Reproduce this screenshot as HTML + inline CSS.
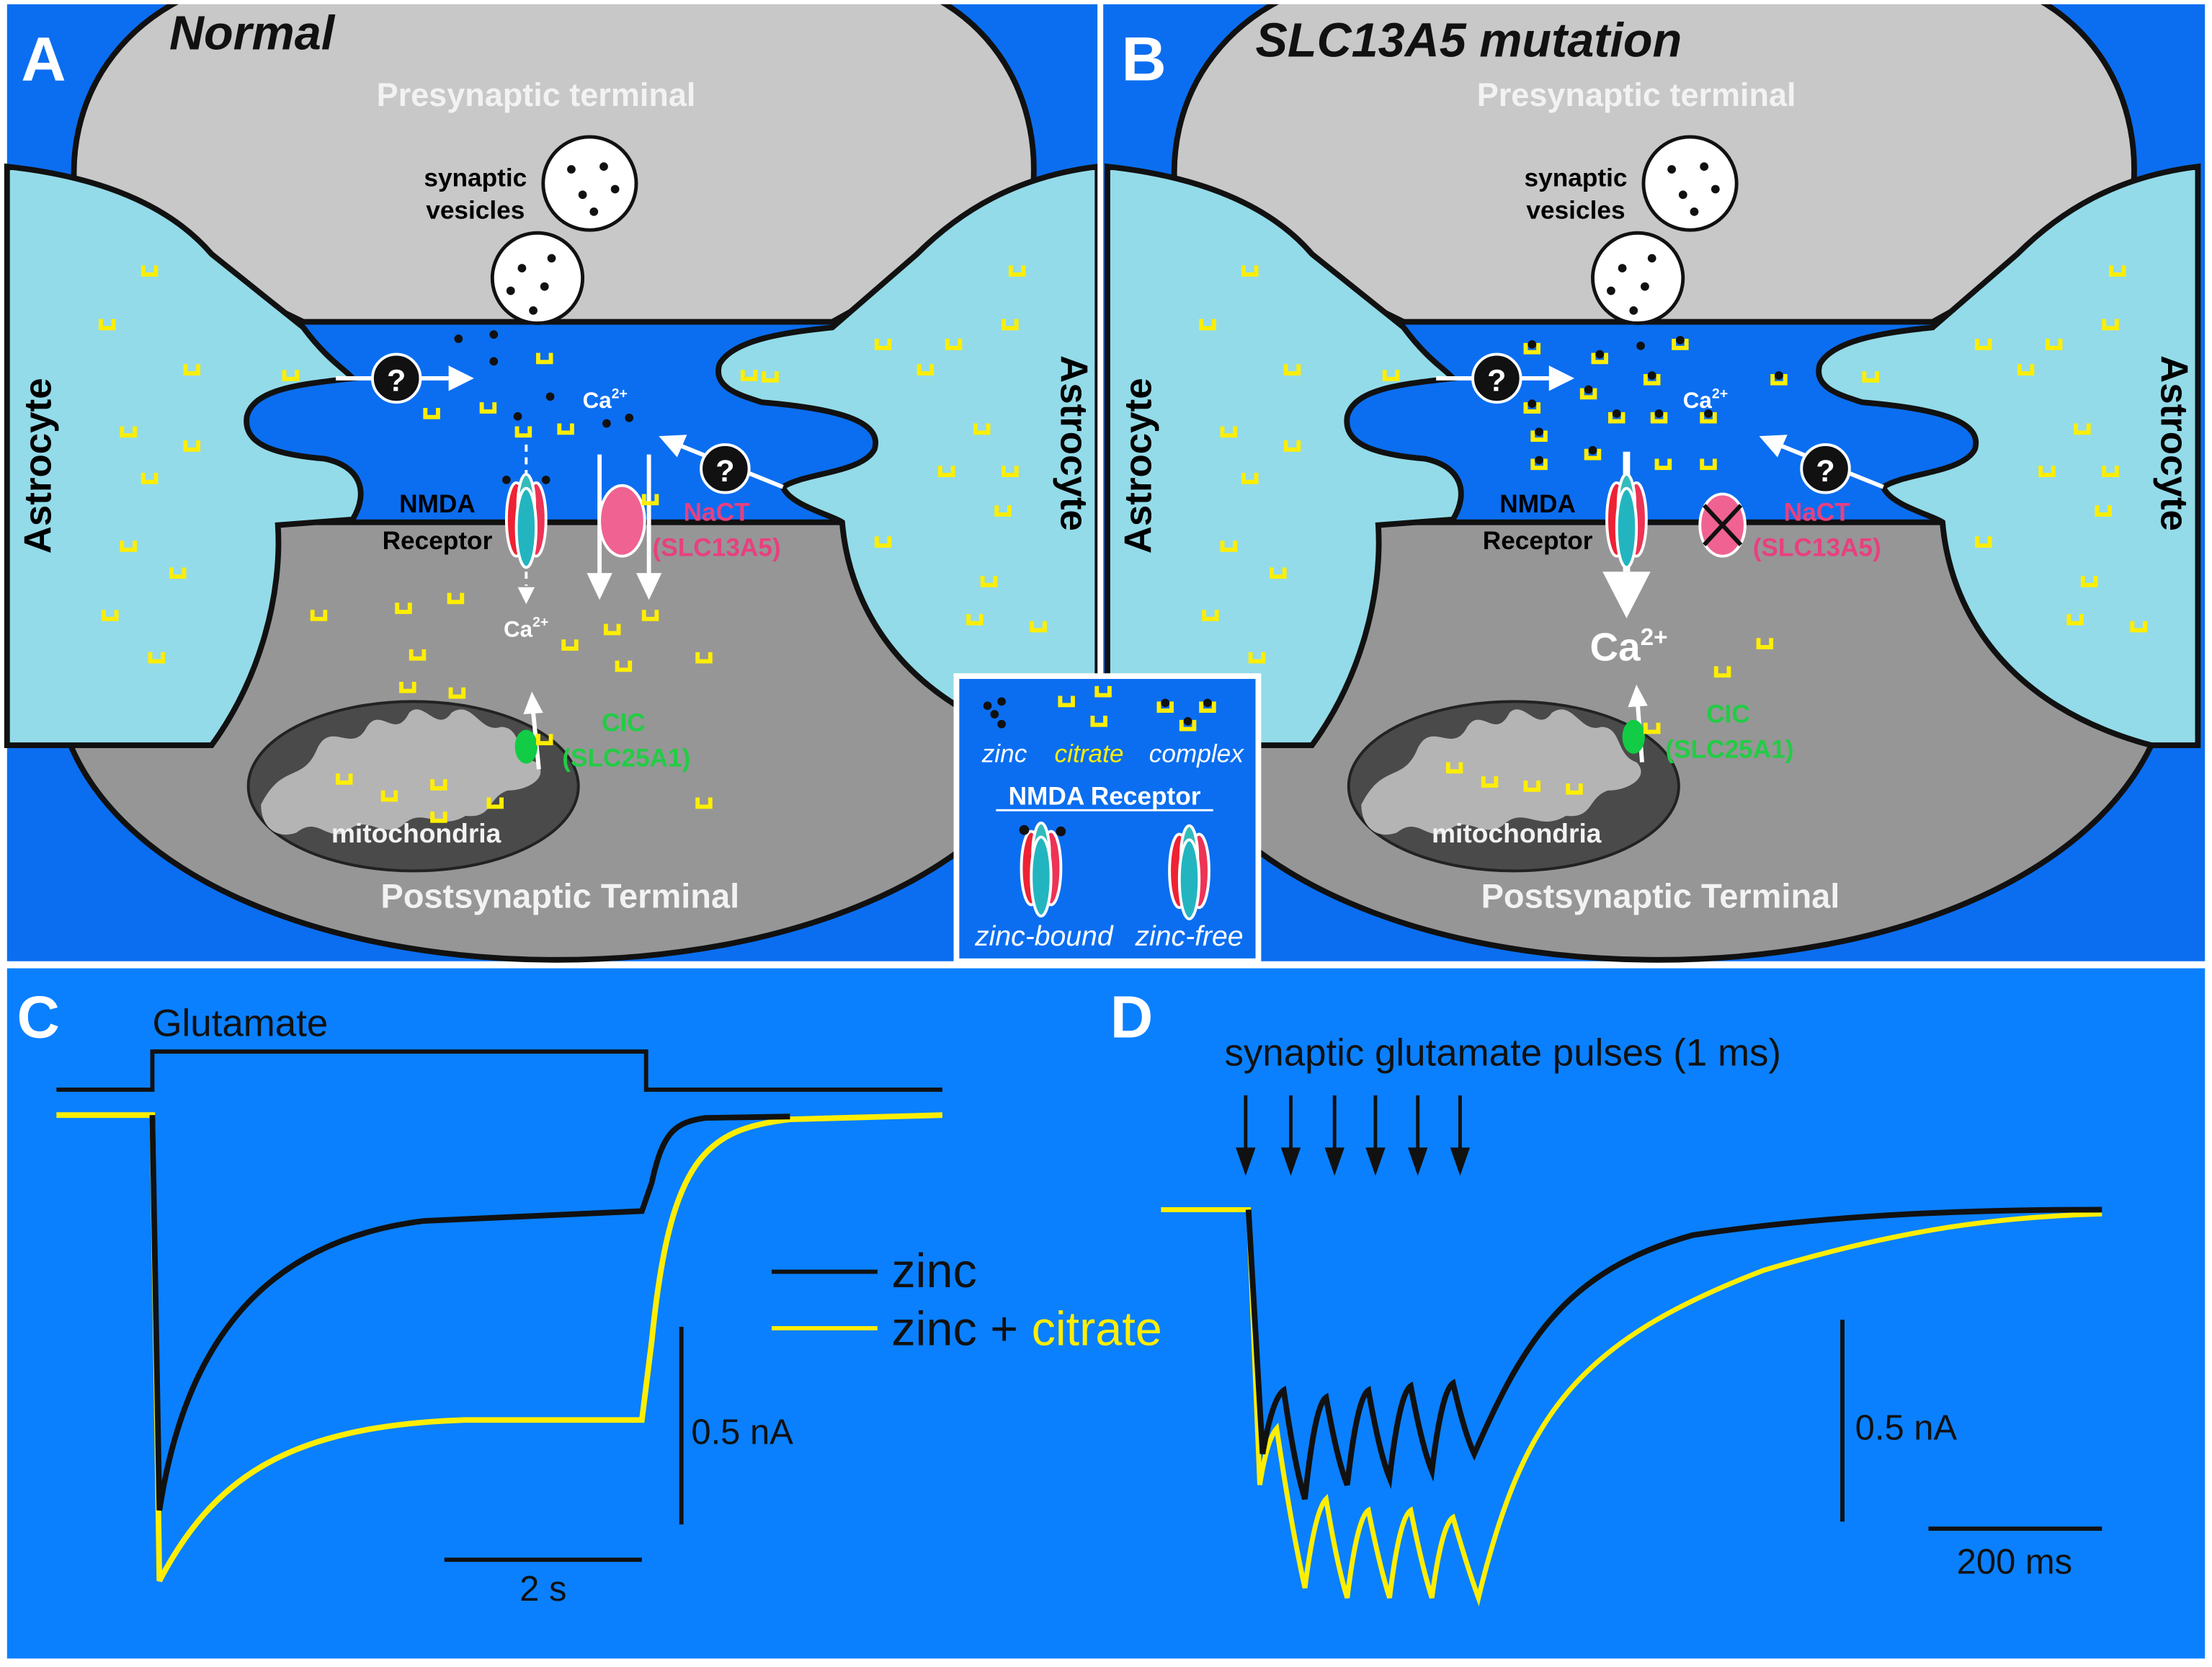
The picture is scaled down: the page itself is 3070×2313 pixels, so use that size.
<!DOCTYPE html>
<html><head><meta charset="utf-8"><style>html,body{margin:0;padding:0;background:#fff}svg{display:block}</style></head><body>
<svg width="3070" height="2313" viewBox="0 0 1568 1181" preserveAspectRatio="none" xmlns="http://www.w3.org/2000/svg" font-family="'Liberation Sans', Arial, sans-serif">
<defs>
<path id="cit" d="M0,0 h3 v5 h6 v-5 h3 v8 h-12 z" fill="#ffee00"/>
<g id="cx"><use href="#cit"/><circle cx="6" cy="1" r="3" fill="#111"/></g>
<g id="nmda"><ellipse cx="-7" cy="0" rx="7" ry="26" fill="#ee2233" stroke="#fff" stroke-width="2"/><ellipse cx="7" cy="0" rx="7" ry="26" fill="#ee3355" stroke="#fff" stroke-width="2"/><ellipse cx="0" cy="-10" rx="6" ry="22" fill="#33bbbb" stroke="#fff" stroke-width="2"/><ellipse cx="0" cy="6" rx="7" ry="28" fill="#22b5c0" stroke="#fff" stroke-width="2"/></g>
<g id="panel">
<path d="M55,150 C40,70 90,-10 200,-20 L600,-20 C700,-10 745,70 730,150 L590,228 L215,228 Z" fill="#c8c8c8" stroke="#111" stroke-width="4"/>
<path d="M195,370 L597,370 C602,430 640,500 745,528 C700,622 560,680 395,680 C230,680 90,622 50,528 C150,500 190,430 195,370 Z" fill="#969696" stroke="#111" stroke-width="4"/>
<path d="M5,118 C70,125 120,145 150,180 L215,232 C232,255 245,262 250,268 C215,272 180,275 175,295 C172,315 195,322 230,325 C255,330 262,348 250,368 L197,372 C200,420 185,480 150,528 L5,528 Z" fill="#93dbe9" stroke="#111" stroke-width="4"/>
<path d="M778,118 C720,125 680,150 650,180 L590,232 C560,235 520,240 510,258 C505,275 525,280 540,285 C600,290 625,300 620,318 C612,335 570,335 555,345 C560,358 590,365 597,370 C602,430 640,500 745,528 L778,528 Z" fill="#93dbe9" stroke="#111" stroke-width="4"/>
<circle cx="418" cy="130" r="33" fill="#fff" stroke="#111" stroke-width="2.5"/>
<g fill="#111"><circle cx="405" cy="120" r="3"/><circle cx="428" cy="118" r="3"/><circle cx="413" cy="138" r="3"/><circle cx="436" cy="134" r="3"/><circle cx="421" cy="150" r="3"/></g>
<circle cx="381" cy="197" r="32" fill="#fff" stroke="#111" stroke-width="2.5"/>
<g fill="#111"><circle cx="370" cy="190" r="3"/><circle cx="391" cy="183" r="3"/><circle cx="362" cy="206" r="3"/><circle cx="386" cy="203" r="3"/><circle cx="378" cy="220" r="3"/></g>
<text x="337" y="132" font-size="18" font-weight="bold" text-anchor="middle">synaptic</text>
<text x="337" y="155" font-size="18" font-weight="bold" text-anchor="middle">vesicles</text>
<text x="380" y="75" font-size="23" font-weight="bold" fill="#f2f2f2" text-anchor="middle">Presynaptic terminal</text>
<text x="397" y="643" font-size="24" font-weight="bold" fill="#f2f2f2" text-anchor="middle">Postsynaptic Terminal</text>
<text transform="translate(36,330) rotate(-90)" font-size="27" font-weight="bold" text-anchor="middle">Astrocyte</text>
<text transform="translate(752,314) rotate(90)" font-size="27" font-weight="bold" text-anchor="middle">Astrocyte</text>
<text x="310" y="363" font-size="18" font-weight="bold" text-anchor="middle">NMDA</text>
<text x="310" y="389" font-size="18" font-weight="bold" text-anchor="middle">Receptor</text>
<line x1="238" y1="268" x2="318" y2="268" stroke="#fff" stroke-width="3"/><path d="M336,268 L318,259 L318,277 Z" fill="#fff"/>
<circle cx="281" cy="268" r="17" fill="#111" stroke="#fff" stroke-width="2"/><text x="281" y="277" font-size="22" font-weight="bold" fill="#fff" text-anchor="middle">?</text>
<line x1="555" y1="345" x2="483" y2="316" stroke="#fff" stroke-width="3"/><path d="M467,309 L487,308 L480,324 Z" fill="#fff"/>
<circle cx="514" cy="332" r="17" fill="#111" stroke="#fff" stroke-width="2"/><text x="514" y="341" font-size="22" font-weight="bold" fill="#fff" text-anchor="middle">?</text>
<ellipse cx="293" cy="557" rx="117" ry="60" fill="#4a4a4a" stroke="#222" stroke-width="2"/>
<path d="M185,570 C200,540 215,555 225,530 C235,510 250,535 260,515 C270,500 280,525 290,505 C300,495 310,520 320,505 C335,495 340,520 355,515 C370,515 365,535 380,540 C390,550 375,560 360,560 C345,565 350,580 330,578 C310,590 300,570 285,585 C270,595 260,575 245,590 C230,595 225,578 210,590 C195,595 185,585 185,570 Z" fill="#b4b4b4"/>
<text x="295" y="597" font-size="19" font-weight="bold" fill="#f2f2f2" text-anchor="middle">mitochondria</text>
</g>
<g id="cit1">
<use href="#cit" x="100" y="188"/><use href="#cit" x="70" y="226"/><use href="#cit" x="130" y="258"/><use href="#cit" x="200" y="262"/><use href="#cit" x="85" y="302"/><use href="#cit" x="130" y="312"/><use href="#cit" x="100" y="335"/><use href="#cit" x="85" y="383"/><use href="#cit" x="120" y="402"/><use href="#cit" x="72" y="432"/><use href="#cit" x="105" y="462"/>
<use href="#cit" x="715" y="188"/><use href="#cit" x="710" y="226"/><use href="#cit" x="620" y="240"/><use href="#cit" x="650" y="258"/><use href="#cit" x="670" y="240"/><use href="#cit" x="540" y="263"/><use href="#cit" x="690" y="300"/><use href="#cit" x="665" y="330"/><use href="#cit" x="710" y="330"/><use href="#cit" x="705" y="358"/><use href="#cit" x="620" y="380"/><use href="#cit" x="685" y="435"/><use href="#cit" x="730" y="440"/><use href="#cit" x="695" y="408"/>
</g>
</defs>
<rect width="1568" height="1181" fill="#fff"/>
<rect x="5" y="3" width="773" height="678" fill="#0b6ef0"/>
<rect x="782" y="3" width="781" height="678" fill="#0b6ef0"/>
<rect x="5" y="686" width="1558" height="489" fill="#0a80ff"/>

<use href="#panel"/>
<use href="#cit1"/>
<g fill="#111"><circle cx="325" cy="240" r="3"/><circle cx="350" cy="237" r="3"/><circle cx="350" cy="256" r="3"/><circle cx="390" cy="281" r="3"/><circle cx="367" cy="295" r="3"/><circle cx="430" cy="300" r="3"/><circle cx="446" cy="296" r="3"/></g>
<g><use href="#cit" x="380" y="250"/><use href="#cit" x="300" y="289"/><use href="#cit" x="340" y="285"/><use href="#cit" x="365" y="302"/><use href="#cit" x="395" y="300"/><use href="#cit" x="525" y="262"/>
<use href="#cit" x="220" y="432"/><use href="#cit" x="280" y="427"/><use href="#cit" x="317" y="420"/><use href="#cit" x="290" y="460"/><use href="#cit" x="283" y="483"/><use href="#cit" x="318" y="487"/><use href="#cit" x="398" y="453"/><use href="#cit" x="428" y="442"/><use href="#cit" x="455" y="432"/><use href="#cit" x="436" y="468"/><use href="#cit" x="493" y="462"/><use href="#cit" x="493" y="565"/>
<use href="#cit" x="238" y="548"/><use href="#cit" x="270" y="560"/><use href="#cit" x="305" y="552"/><use href="#cit" x="345" y="565"/><use href="#cit" x="305" y="575"/></g>
<line x1="373" y1="315" x2="373" y2="415" stroke="#fff" stroke-width="2" stroke-dasharray="5,4"/><path d="M373,428 L367,416 L379,416 Z" fill="#fff"/>
<use href="#nmda" x="373" y="368"/>
<g fill="#111"><circle cx="359" cy="340" r="3"/><circle cx="387" cy="340" r="3"/></g>
<line x1="425" y1="322" x2="425" y2="408" stroke="#fff" stroke-width="3"/><path d="M425,425 L416,406 L434,406 Z" fill="#fff"/>
<line x1="460" y1="322" x2="460" y2="408" stroke="#fff" stroke-width="3"/><path d="M460,425 L451,406 L469,406 Z" fill="#fff"/>
<ellipse cx="441" cy="369" rx="16" ry="25" fill="#f06292" stroke="#fff" stroke-width="2"/>
<use href="#cit" x="455" y="350"/>
<text x="508" y="369" font-size="18" font-weight="bold" fill="#e8407f" text-anchor="middle">NaCT</text>
<text x="508" y="394" font-size="18" font-weight="bold" fill="#e8407f" text-anchor="middle">(SLC13A5)</text>
<text x="413" y="289" font-size="16" font-weight="bold" fill="#fff">Ca<tspan font-size="10" dy="-7">2+</tspan></text>
<text x="357" y="451" font-size="16" font-weight="bold" fill="#fff">Ca<tspan font-size="10" dy="-7">2+</tspan></text>
<line x1="382" y1="545" x2="378" y2="505" stroke="#fff" stroke-width="3"/><path d="M377,490 L371,506 L385,505 Z" fill="#fff"/>
<ellipse cx="373" cy="529" rx="8" ry="12" fill="#11cc44"/><use href="#cit" x="380" y="520"/>
<text x="442" y="518" font-size="18" font-weight="bold" fill="#22cc44" text-anchor="middle">CIC</text>
<text x="444" y="543" font-size="18" font-weight="bold" fill="#22cc44" text-anchor="middle">(SLC25A1)</text>

<g transform="translate(780,0)"><use href="#panel"/></g>
<g transform="translate(780,0)"><use href="#cit1"/>
<g fill="#111"><circle cx="383" cy="245" r="3"/></g>
<use href="#cx" x="300" y="243"/><use href="#cx" x="348" y="250"/><use href="#cx" x="405" y="240"/><use href="#cx" x="300" y="285"/><use href="#cx" x="340" y="275"/><use href="#cx" x="385" y="265"/><use href="#cx" x="360" y="292"/><use href="#cx" x="390" y="292"/><use href="#cx" x="425" y="292"/><use href="#cx" x="305" y="305"/><use href="#cx" x="305" y="325"/><use href="#cx" x="343" y="318"/><use href="#cx" x="475" y="265"/>
<use href="#cit" x="393" y="325"/><use href="#cit" x="425" y="325"/><use href="#cit" x="465" y="452"/><use href="#cit" x="435" y="472"/><use href="#cit" x="245" y="540"/><use href="#cit" x="270" y="550"/><use href="#cit" x="300" y="553"/><use href="#cit" x="330" y="555"/>
</g>
<line x1="1153" y1="320" x2="1153" y2="405" stroke="#fff" stroke-width="5"/><path d="M1153,438 L1136,405 L1170,405 Z" fill="#fff"/>
<use href="#nmda" x="1153" y="368"/>
<ellipse cx="1221" cy="372" rx="16" ry="22" fill="#f06292" stroke="#fff" stroke-width="2"/>
<path d="M1208,358 L1234,386 M1234,358 L1208,386" stroke="#111" stroke-width="3"/>
<text x="1288" y="369" font-size="18" font-weight="bold" fill="#e8407f" text-anchor="middle">NaCT</text>
<text x="1288" y="394" font-size="18" font-weight="bold" fill="#e8407f" text-anchor="middle">(SLC13A5)</text>
<text x="1193" y="289" font-size="16" font-weight="bold" fill="#fff">Ca<tspan font-size="10" dy="-7">2+</tspan></text>
<text x="1127" y="468" font-size="28" font-weight="bold" fill="#fff">Ca<tspan font-size="17" dy="-11">2+</tspan></text>
<line x1="1164" y1="540" x2="1161" y2="500" stroke="#fff" stroke-width="3"/><path d="M1160,485 L1154,501 L1168,500 Z" fill="#fff"/>
<ellipse cx="1158" cy="522" rx="8" ry="12" fill="#11cc44"/><use href="#cit" x="1165" y="512"/>
<text x="1225" y="512" font-size="18" font-weight="bold" fill="#22cc44" text-anchor="middle">CIC</text>
<text x="1226" y="537" font-size="18" font-weight="bold" fill="#22cc44" text-anchor="middle">(SLC25A1)</text>

<rect x="0" y="0" width="1568" height="3" fill="#fff"/>
<rect x="778" y="0" width="4" height="683" fill="#fff"/>
<text x="15" y="57" font-size="44" font-weight="bold" fill="#fff">A</text>
<text x="120" y="35" font-size="34" font-weight="bold" font-style="italic" fill="#111">Normal</text>
<text x="795" y="57" font-size="44" font-weight="bold" fill="#fff">B</text>
<text x="890" y="40" font-size="34" font-weight="bold" font-style="italic" fill="#111">SLC13A5 mutation</text>

<rect x="678" y="479" width="214" height="202" fill="#0b6ef0" stroke="#fff" stroke-width="4"/>
<g fill="#111"><circle cx="700" cy="500" r="3"/><circle cx="710" cy="497" r="3"/><circle cx="705" cy="506" r="3"/><circle cx="710" cy="513" r="3"/></g>
<use href="#cit" x="750" y="493"/><use href="#cit" x="776" y="486"/><use href="#cit" x="773" y="507"/>
<use href="#cx" x="820" y="497"/><use href="#cx" x="850" y="497"/><use href="#cx" x="836" y="510"/>
<text x="712" y="540" font-size="18" font-style="italic" fill="#fff" text-anchor="middle">zinc</text>
<text x="772" y="540" font-size="18" font-style="italic" fill="#ffee00" text-anchor="middle">citrate</text>
<text x="848" y="540" font-size="18" font-style="italic" fill="#fff" text-anchor="middle">complex</text>
<text x="783" y="570" font-size="18" font-weight="bold" fill="#fff" text-anchor="middle">NMDA Receptor</text>
<line x1="706" y1="574" x2="860" y2="574" stroke="#fff" stroke-width="1.5"/>
<use href="#nmda" x="738" y="615"/><g fill="#111"><circle cx="726" cy="588" r="3.5"/><circle cx="752" cy="589" r="3.5"/></g>
<use href="#nmda" x="843" y="617"/>
<text x="740" y="670" font-size="20" font-style="italic" fill="#fff" text-anchor="middle">zinc-bound</text>
<text x="843" y="670" font-size="20" font-style="italic" fill="#fff" text-anchor="middle">zinc-free</text>

<text x="12" y="735" font-size="42" font-weight="bold" fill="#fff">C</text>
<text x="108" y="734" font-size="27" fill="#111">Glutamate</text>
<path d="M40,772 L108,772 L108,745 L458,745 L458,772 L668,772" fill="none" stroke="#111" stroke-width="3"/>
<path d="M40,790 L108,790 L113,1120 C150,1050 200,1010 330,1006 L455,1006 L462,950 C475,820 500,800 560,793 L668,790" fill="none" stroke="#ffee00" stroke-width="4"/>
<path d="M108,790 L113,1070 C130,960 180,880 300,865 L455,858 L462,838 C470,800 480,795 500,792 L560,791" fill="none" stroke="#111" stroke-width="4"/>
<line x1="483" y1="940" x2="483" y2="1080" stroke="#111" stroke-width="3"/>
<text x="490" y="1023" font-size="25" fill="#111">0.5 nA</text>
<line x1="315" y1="1105" x2="455" y2="1105" stroke="#111" stroke-width="3"/>
<text x="385" y="1134" font-size="25" fill="#111" text-anchor="middle">2 s</text>
<line x1="547" y1="901" x2="622" y2="901" stroke="#111" stroke-width="3"/>
<text x="632" y="912" font-size="34" fill="#111">zinc</text>
<line x1="547" y1="941" x2="622" y2="941" stroke="#ffee00" stroke-width="3"/>
<text x="632" y="953" font-size="34" fill="#111">zinc + <tspan fill="#ffee00">citrate</tspan></text>

<text x="787" y="735" font-size="42" font-weight="bold" fill="#fff">D</text>
<text x="868" y="755" font-size="27" fill="#111">synaptic glutamate pulses (1 ms)</text>
<g stroke="#111" stroke-width="2.5">
<line x1="883" y1="776" x2="883" y2="815"/><line x1="915" y1="776" x2="915" y2="815"/><line x1="946" y1="776" x2="946" y2="815"/><line x1="975" y1="776" x2="975" y2="815"/><line x1="1005" y1="776" x2="1005" y2="815"/><line x1="1035" y1="776" x2="1035" y2="815"/></g>
<g fill="#111"><path d="M883,833 L876,813 L890,813Z"/><path d="M915,833 L908,813 L922,813Z"/><path d="M946,833 L939,813 L953,813Z"/><path d="M975,833 L968,813 L982,813Z"/><path d="M1005,833 L998,813 L1012,813Z"/><path d="M1035,833 L1028,813 L1042,813Z"/></g>
<path d="M823,857 L885,857 L893,1052 Q898,1020 905,1012 Q915,1080 925,1125 Q932,1070 940,1062 Q948,1110 955,1132 Q962,1075 970,1070 Q978,1110 985,1132 Q992,1075 1000,1070 Q1008,1110 1015,1132 Q1022,1080 1030,1075 Q1040,1110 1048,1132 C1080,1000 1120,950 1250,900 C1350,870 1420,862 1490,860" fill="none" stroke="#ffee00" stroke-width="3.5"/>
<path d="M885,857 L895,1030 Q902,990 910,985 Q918,1040 925,1062 Q932,995 940,990 Q948,1035 955,1052 Q962,990 970,985 Q978,1030 985,1047 Q992,987 1000,982 Q1008,1025 1015,1042 Q1022,985 1030,980 Q1038,1015 1045,1030 C1080,950 1110,900 1200,875 C1300,860 1400,857 1490,857" fill="none" stroke="#111" stroke-width="4"/>
<line x1="1306" y1="935" x2="1306" y2="1078" stroke="#111" stroke-width="3"/>
<text x="1315" y="1020" font-size="25" fill="#111">0.5 nA</text>
<line x1="1367" y1="1083" x2="1490" y2="1083" stroke="#111" stroke-width="3"/>
<text x="1428" y="1115" font-size="25" fill="#111" text-anchor="middle">200 ms</text>
</svg>
</body></html>
